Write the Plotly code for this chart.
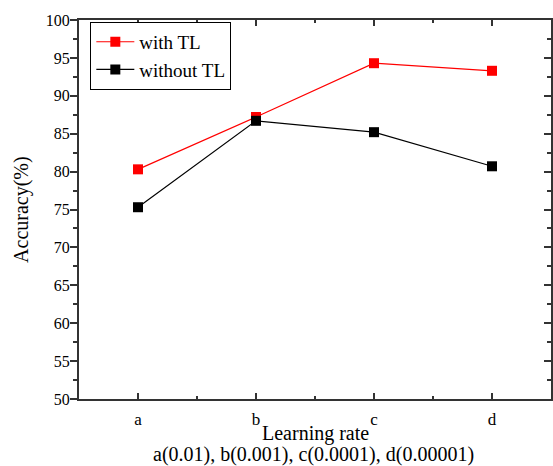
import plotly.graph_objects as go

categories = ["a", "b", "c", "d"]
with_tl = [80.3, 87.2, 94.3, 93.3]
without_tl = [75.3, 86.7, 85.2, 80.7]
y_ticks = [50, 55, 60, 65, 70, 75, 80, 85, 90, 95, 100]
xpos = list(range(len(categories)))

FONT = "Liberation Serif"

fig = go.Figure()
fig.add_trace(go.Scatter(x=xpos, y=with_tl, mode="lines+markers", name="with TL",
                         line=dict(color="#ff0000", width=1.2),
                         marker=dict(symbol="square", size=10, color="#ff0000")))
fig.add_trace(go.Scatter(x=xpos, y=without_tl, mode="lines+markers", name="without TL",
                         line=dict(color="#000000", width=1.2),
                         marker=dict(symbol="square", size=10, color="#000000")))
# invisible trace to activate right-side axis
fig.add_trace(go.Scatter(x=[xpos[0]], y=[with_tl[0]], yaxis="y2", mode="markers",
                         marker=dict(opacity=0), showlegend=False, hoverinfo="skip"))

fig.update_layout(
    width=553, height=466,
    margin=dict(l=79, r=2, t=20, b=67),
    plot_bgcolor="white", paper_bgcolor="white",
    font=dict(family=FONT, size=16, color="black"),
    showlegend=True,
    legend=dict(x=0.024, y=0.995, xanchor="left", yanchor="top",
                bordercolor="black", borderwidth=1, bgcolor="white",
                font=dict(family=FONT, size=19), tracegroupgap=0,
                itemwidth=38),
    xaxis=dict(range=[-0.5, 3.5], tickvals=xpos, ticktext=categories,
               showgrid=False, zeroline=False, showline=True, linecolor="#333", linewidth=2,
               mirror="ticks", ticks="inside", ticklen=6, tickwidth=1.5, tickcolor="#333",
               minor=dict(tick0=-0.5, dtick=1, ticks="inside", ticklen=3, tickwidth=1.5, tickcolor="#333"),
               tickfont=dict(family=FONT, size=17), ticklabelstandoff=4),
    yaxis=dict(range=[50, 100], tickvals=y_ticks,
               showgrid=False, zeroline=False, showline=True, linecolor="#333", linewidth=2,
               ticks="outside", ticklen=7, tickwidth=1.5, tickcolor="#333",
               minor=dict(dtick=2.5, ticks="outside", ticklen=4, tickwidth=1.5, tickcolor="#333"),
               tickfont=dict(family=FONT, size=16), ticklabelstandoff=-3),
    yaxis2=dict(range=[50, 100], tickvals=y_ticks, overlaying="y", side="right",
                showgrid=False, zeroline=False, showline=True, linecolor="#333", linewidth=2,
                ticks="inside", ticklen=7, tickwidth=1.5, tickcolor="#333", showticklabels=False,
                minor=dict(dtick=2.5, ticks="inside", ticklen=4, tickwidth=1.5, tickcolor="#333")),
    annotations=[
        dict(text="Learning rate", x=0.5, y=-0.09, xref="paper", yref="paper",
             xanchor="center", yanchor="middle", showarrow=False,
             font=dict(family=FONT, size=20)),
        dict(text="a(0.01), b(0.001), c(0.0001), d(0.00001)", x=0.497, y=-0.147,
             xref="paper", yref="paper", xanchor="center", yanchor="middle",
             showarrow=False, font=dict(family=FONT, size=20)),
        dict(text="Accuracy(%)", x=-0.122, y=0.5, xref="paper", yref="paper",
             xanchor="center", yanchor="middle", showarrow=False, textangle=-90,
             font=dict(family=FONT, size=20)),
    ],
)

fig.write_html("out.html")
